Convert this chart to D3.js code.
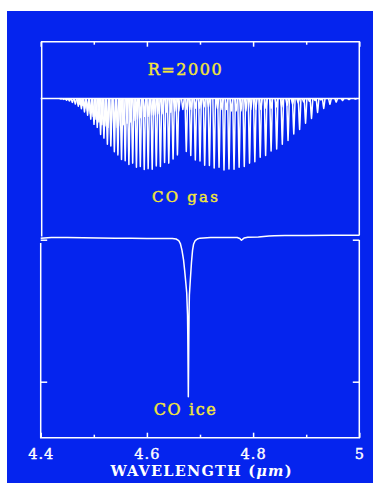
<!DOCTYPE html>
<html>
<head>
<meta charset="utf-8">
<script src="https://cdn.jsdelivr.net/npm/d3@7"></script>
<style>
  html, body { margin: 0; padding: 0; background: #ffffff; }
  svg { display: block; }
</style>
</head>
<body>
<svg id="chart" width="374" height="485"></svg>
<script>
// CO fundamental (v=1-0) absorption lines: centre wavelength (µm) and residual flux at line core
const fundamentalWavelength = [
  4.4382, 4.4434, 4.4487, 4.4541, 4.4596, 4.4652, 4.4708, 4.4766, 4.4824, 4.4883,
  4.4943, 4.5004, 4.5065, 4.5128, 4.5191, 4.5256, 4.5321, 4.5387, 4.5454, 4.5522,
  4.5591, 4.5661, 4.5732, 4.5803, 4.5876, 4.5950, 4.6024, 4.6100, 4.6177, 4.6254,
  4.6333, 4.6412, 4.6493, 4.6575,
  4.6742, 4.6826, 4.6912, 4.7000, 4.7088, 4.7177, 4.7267, 4.7359, 4.7452, 4.7546,
  4.7641, 4.7737, 4.7834, 4.7933, 4.8033, 4.8134, 4.8236, 4.8339, 4.8444, 4.8550,
  4.8658, 4.8766, 4.8876, 4.8988, 4.9100, 4.9214, 4.9330, 4.9447, 4.9565, 4.9685,
  4.9806, 4.9928
];
const fundamentalFlux = [
  0.996, 0.993, 0.988, 0.982, 0.972, 0.960, 0.944, 0.926, 0.902, 0.878,
  0.850, 0.812, 0.790, 0.738, 0.712, 0.668, 0.655, 0.612, 0.590, 0.556,
  0.548, 0.520, 0.530, 0.500, 0.505, 0.484, 0.490, 0.486, 0.510, 0.505,
  0.535, 0.530, 0.560, 0.590,
  0.615, 0.585, 0.552, 0.545, 0.515, 0.512, 0.495, 0.500, 0.480, 0.488,
  0.485, 0.500, 0.505, 0.530, 0.540, 0.572, 0.585, 0.618, 0.632, 0.668,
  0.695, 0.742, 0.775, 0.820, 0.855, 0.898, 0.928, 0.958, 0.974, 0.985,
  0.992, 0.996
];

// CO hot band (v=2-1) lines
const hotbandWavelength = [
  4.4732, 4.4782, 4.4832, 4.4883, 4.4935, 4.4988, 4.5042, 4.5097, 4.5152, 4.5209,
  4.5266, 4.5324, 4.5383, 4.5443, 4.5503, 4.5565, 4.5627, 4.5691, 4.5755, 4.5820,
  4.5886, 4.5954, 4.6022, 4.6090, 4.6160, 4.6231, 4.6303, 4.6376, 4.6450, 4.6524,
  4.6600, 4.6677, 4.6755, 4.6834, 4.6913, 4.6994, 4.7076, 4.7159,
  4.7329, 4.7415, 4.7502, 4.7591, 4.7680, 4.7771, 4.7863, 4.7956, 4.8050, 4.8146,
  4.8242, 4.8340, 4.8439, 4.8540, 4.8641, 4.8744, 4.8848, 4.8953, 4.9060, 4.9168,
  4.9277
];
const hotbandFlux = [
  0.96, 0.95, 0.93, 0.91, 0.89, 0.87, 0.85, 0.83, 0.81, 0.80,
  0.79, 0.78, 0.78, 0.79, 0.80, 0.81, 0.82, 0.83, 0.84, 0.85,
  0.86, 0.87, 0.87, 0.88, 0.88, 0.89, 0.89, 0.90, 0.90, 0.91,
  0.91, 0.92, 0.92, 0.92, 0.93, 0.93, 0.94, 0.94,
  0.93, 0.92, 0.92, 0.91, 0.91, 0.91, 0.91, 0.92, 0.92, 0.92,
  0.93, 0.93, 0.94, 0.94, 0.95, 0.96, 0.97, 0.975, 0.98, 0.985,
  0.99
];

// Solid CO absorption feature
const iceWavelength = [
  4.400, 4.420, 4.450, 4.480, 4.510, 4.540, 4.570, 4.600, 4.630, 4.648,
  4.655, 4.660, 4.663, 4.666, 4.669, 4.671, 4.6735, 4.675, 4.6765, 4.677,
  4.6775, 4.678, 4.6785, 4.679, 4.6795, 4.680, 4.682, 4.684, 4.686, 4.688,
  4.691, 4.695, 4.700, 4.720, 4.740, 4.760, 4.770, 4.775, 4.778, 4.780,
  4.783, 4.790, 4.810, 4.820, 4.830, 4.840, 4.860, 4.900, 4.950, 5.000
];
const iceFlux = [
  1.010, 1.015, 1.016, 1.013, 1.012, 1.011, 1.010, 1.009, 1.009, 1.008,
  1.005, 0.994, 0.973, 0.927, 0.858, 0.787, 0.688, 0.625, 0.470, 0.329,
  0.118, -0.106, 0.096, 0.329, 0.505, 0.611, 0.730, 0.843, 0.927, 0.970,
  0.994, 1.005, 1.011, 1.015, 1.016, 1.016, 1.015, 1.008, 0.996, 1.002,
  1.012, 1.017, 1.019, 1.023, 1.026, 1.028, 1.030, 1.030, 1.031, 1.031
];

const xTickMajor = [4.4, 4.6, 4.8, 5.0];
const xTickLabels = ["4.4", "4.6", "4.8", "5"];
const xTickMinor = [4.5, 4.7, 4.9];
const iceTicks = [0, 1];
const gasContinuum = 1;
const xTitle = "WAVELENGTH";
const xUnit = "\u03bcm";
const labelResolution = "R=2000";
const labelGas = "CO gas";
const labelIce = "CO ice";

// ---- layout ----
const W = 374, H = 485;
const BG = "#0524ee", FG = "#ffffff", YELLOW = "#f2e53a";
const frame = { left: 40.7, right: 359.3, top: 41.7, bottom: 437.7 };
const LW = 1.5;

const svg = d3.select("#chart");
svg.append("rect").attr("x", 7).attr("y", 11).attr("width", W - 8).attr("height", H - 13).attr("fill", BG);

const x = d3.scaleLinear().domain([4.4, 5.0]).range([frame.left, frame.right]);
const gasY = d3.scaleLinear().domain([0, 1]).range([236, 98.5]);
const iceY = d3.scaleLinear().domain([0, 1]).range([381.7, 239.7]);

// frame: upper (gas) panel and lower (ice) panel
const frameG = svg.append("g").attr("fill", "none").attr("stroke", FG).attr("stroke-width", LW);
frameG.append("path").attr("d", `M${frame.left + 1},236.5V${frame.top}H${frame.right}V235.5`);
frameG.append("path").attr("d", `M${frame.left},243V${frame.bottom}H${frame.right}V240`);

// x axes (ticks point inward)
function styleAxis(g) {
  g.select(".domain").remove();
  g.selectAll(".tick line").attr("stroke", FG).attr("stroke-width", LW);
}
svg.append("g").attr("transform", `translate(0,${frame.bottom})`)
  .call(d3.axisBottom(x).tickValues(xTickMajor).tickSize(-5).tickPadding(11)
    .tickFormat((d, i) => xTickLabels[i]))
  .call(styleAxis)
  .call(g => g.selectAll(".tick text")
    .attr("fill", FG).attr("stroke", FG).attr("stroke-width", 0.4)
    .attr("font-family", "DejaVu Serif").attr("font-size", 14.5)
    .attr("letter-spacing", 1));
svg.append("g").attr("transform", `translate(0,${frame.bottom})`)
  .call(d3.axisBottom(x).tickValues(xTickMinor).tickSize(-3).tickFormat(""))
  .call(styleAxis);
svg.append("g").attr("transform", `translate(0,${frame.top})`)
  .call(d3.axisTop(x).tickValues(xTickMajor).tickSize(-5).tickFormat(""))
  .call(styleAxis);
svg.append("g").attr("transform", `translate(0,${frame.top})`)
  .call(d3.axisTop(x).tickValues(xTickMinor).tickSize(-3).tickFormat(""))
  .call(styleAxis);

// y ticks of the ice panel
svg.append("g").attr("transform", `translate(${frame.left},0)`)
  .call(d3.axisLeft(iceY).tickValues(iceTicks).tickSize(-6.5).tickFormat(""))
  .call(styleAxis);
svg.append("g").attr("transform", `translate(${frame.right},0)`)
  .call(d3.axisRight(iceY).tickValues(iceTicks).tickSize(-6.5).tickFormat(""))
  .call(styleAxis);

// ---- gas-phase spectrum ----
const gasG = svg.append("g").attr("fill", "none").attr("stroke", FG)
  .attr("stroke-width", 1.5).attr("stroke-linejoin", "round");
const gasLine = d3.line().x(d => x(d[0])).y(d => gasY(d[1]));
gasG.append("path").attr("d", gasLine([[4.4, gasContinuum], [5.0, gasContinuum]]));

const hw = 0.0025; // half width of an absorption line at the continuum (µm)
function profile(c, f) {
  const c0 = gasContinuum;
  return [
    [c - hw, c0],
    [c - hw * 0.3, c0 - 0.75 * (c0 - f)],
    [c, f],
    [c + hw * 0.3, c0 - 0.75 * (c0 - f)],
    [c + hw, c0]
  ];
}
const allLines = fundamentalWavelength.map((w, i) => ({ w, f: fundamentalFlux[i] }))
  .concat(hotbandWavelength.map((w, i) => ({ w, f: hotbandFlux[i] })));
gasG.selectAll("path.line").data(allLines).join("path").attr("class", "line")
  .attr("d", d => gasLine(profile(d.w, d.f)));

// ---- ice spectrum ----
const iceLine = d3.line().x(d => x(d[0])).y(d => iceY(d[1]));
svg.append("path")
  .attr("d", iceLine(iceWavelength.map((w, i) => [w, iceFlux[i]])))
  .attr("fill", "none").attr("stroke", FG).attr("stroke-width", LW).attr("stroke-linejoin", "round");

// ---- labels ----
function label(text, cx, y, size, len) {
  svg.append("text").attr("x", cx).attr("y", y).attr("text-anchor", "middle")
    .attr("font-family", "DejaVu Serif").attr("font-size", size)
    .attr("fill", YELLOW).attr("stroke", YELLOW).attr("stroke-width", 0.45)
    .attr("textLength", len).attr("lengthAdjust", "spacing").text(text);
}
label(labelResolution, 184.7, 75, 16, 74);
label(labelGas, 185, 201.5, 15, 66);
label(labelIce, 184.7, 415, 16, 62);

const title = svg.append("text").attr("x", 201).attr("y", 476).attr("text-anchor", "middle")
  .attr("font-family", "DejaVu Serif").attr("font-weight", "bold").attr("font-size", 14.5)
  .attr("fill", FG).attr("textLength", 181).attr("lengthAdjust", "spacing");
title.append("tspan").text(xTitle + " (");
title.append("tspan").attr("font-style", "italic").text(xUnit);
title.append("tspan").text(")");
</script>
</body>
</html>
